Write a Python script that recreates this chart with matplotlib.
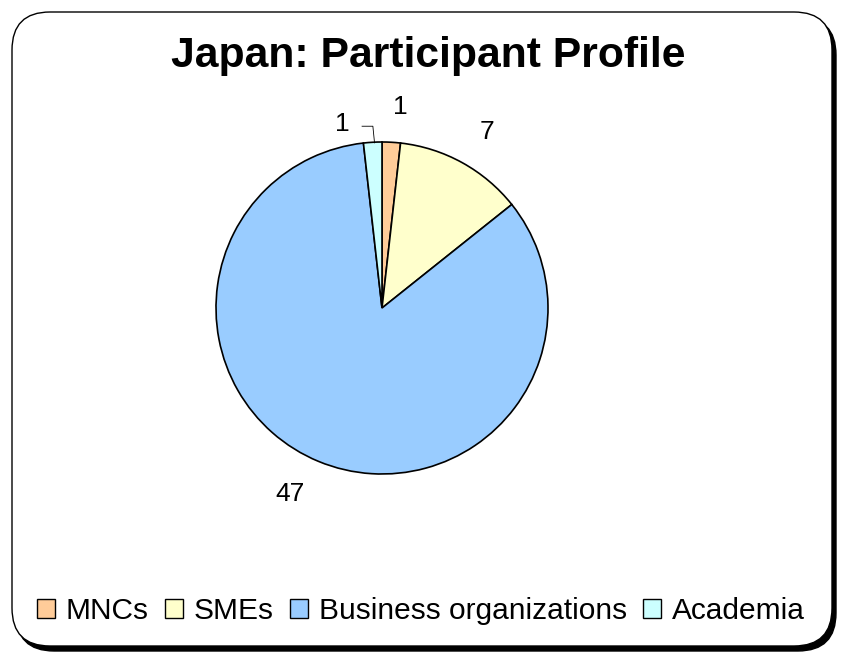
import numpy as np
import matplotlib.pyplot as plt
from matplotlib.patches import FancyBboxPatch, Patch

plt.rcParams['font.family'] = ['Liberation Sans', 'DejaVu Sans']

categories = ["MNCs", "SMEs", "Business organizations", "Academia"]
values = [1, 7, 47, 1]
colors = ["#FFCC99", "#FFFFCC", "#99CCFF", "#CCFFFF"]
title = "Japan: Participant Profile"

W, H = 845, 655
fig = plt.figure(figsize=(W / 100, H / 100), dpi=100)

# rounded frame with shadow, kept behind the pie axes
shadow = FancyBboxPatch((16 / W, 4 / H), 820 / W, 634 / H,
                        boxstyle="round,pad=0,rounding_size=0.045",
                        transform=fig.transFigure, facecolor="black",
                        edgecolor="black", mutation_aspect=W / H, zorder=-3)
frame = FancyBboxPatch((12 / W, 9 / H), 820 / W, 634 / H,
                       boxstyle="round,pad=0,rounding_size=0.045",
                       transform=fig.transFigure, facecolor="white",
                       edgecolor="black", linewidth=1.0, mutation_aspect=W / H,
                       zorder=-2)
fig.patches.extend([shadow, frame])

fig.text(428 / W, 1 - 56 / H, title, ha="center", va="center",
         fontsize=30.7, fontweight="bold")

# pie axes: center (382, 308), radius 166 px
cx, cy, r = 382, 308, 166
ax = fig.add_axes([(cx - r) / W, 1 - (cy + r) / H, 2 * r / W, 2 * r / H])
wedges, texts = ax.pie(values, colors=colors, startangle=90, counterclock=False,
                       labels=[str(v) for v in values], labeldistance=1.21,
                       wedgeprops=dict(edgecolor="black", linewidth=1.2),
                       textprops=dict(fontsize=19))
ax.set_xlim(-1, 1)
ax.set_ylim(-1, 1)
ax.set_aspect("equal")
ax.axis("off")

# move the Academia label out with a leader line
texts[3].set_position((-0.195, 1.11))
ax.plot([-0.12, -0.055, -0.045], [1.095, 1.095, 0.995], color="black", lw=0.6,
        clip_on=False)

handles = [Patch(facecolor=c, edgecolor="black", linewidth=1.0) for c in colors]
fig.legend(handles, categories, loc="center", bbox_to_anchor=(421 / W, 1 - 611 / H),
           ncol=4, frameon=False, fontsize=21.5, handlelength=0.6, handleheight=0.6,
           handletextpad=0.36, columnspacing=0.55)

fig.savefig("out.png", dpi=100)
